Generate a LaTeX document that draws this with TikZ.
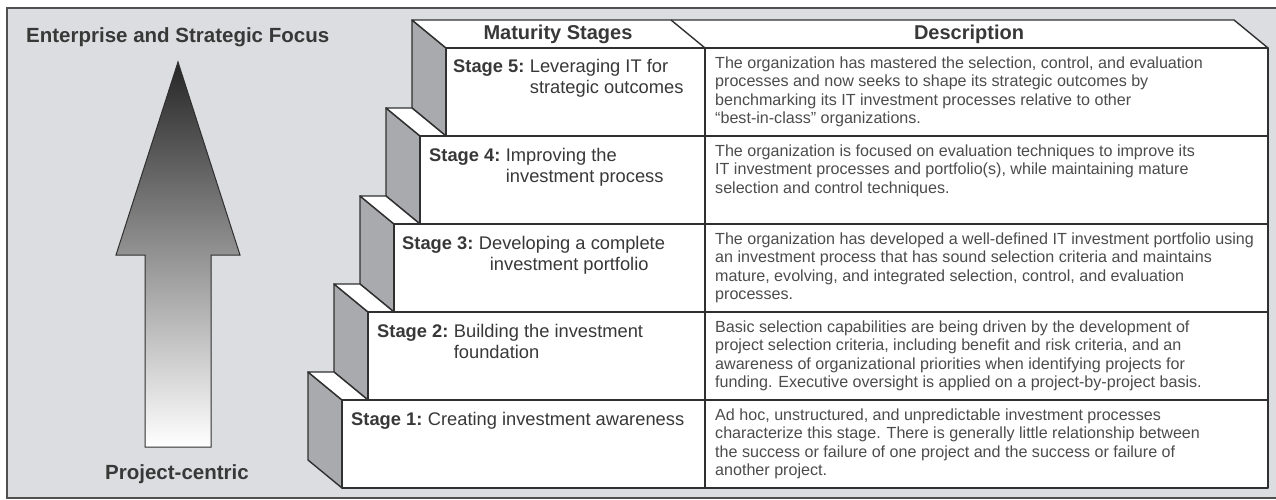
\documentclass[tikz,border=0pt]{standalone}
\usepackage{fontspec}
\setmainfont{Liberation Sans}
\definecolor{bgc}{HTML}{DCDDE0}
\definecolor{sidec}{HTML}{A9AAAD}
\definecolor{linec}{HTML}{303030}
\definecolor{txtc}{HTML}{383838}
\definecolor{framec}{HTML}{505050}
\begin{document}
\begin{tikzpicture}[x=1pt,y=-1pt,
  face/.style={draw=linec, line width=1.4pt, line join=round},
  sideface/.style={face, fill=sidec},
  whiteface/.style={face, fill=white},
  titletext/.style={inner sep=0pt, text=txtc, font=\fontsize{20.5}{24}\selectfont\bfseries},
  hdrtext/.style={inner sep=0pt, text=txtc, anchor=base, font=\fontsize{20}{24}\selectfont\bfseries},
  stagetext/.style={inner sep=0pt, text=txtc, anchor=base west, font=\fontsize{18.3}{21}\selectfont},
  desctext/.style={inner sep=0pt, text=txtc!90!white, anchor=base west, font=\fontsize{16.1}{18.3}\selectfont}
]
\useasboundingbox (0,0) rectangle (1276,500);
\clip (0,0) rectangle (1276,500);
\fill[white] (0,0) rectangle (1276,500);
\draw[fill=bgc, draw=framec, line width=2.5pt] (7,8) rectangle (1290,498);

% arrow
\shade[top color=black!85, bottom color=white, draw=linec, line width=1pt, line join=miter]
  (178,62) -- (240,255) -- (211,255) -- (211,447) -- (145,447) -- (145,255) -- (116,255) -- cycle;

\node[titletext, anchor=base west] (ttl) at (26,43) {Enterprise and Strategic Focus};
\node[titletext, anchor=base] (pc) at (177,479) {Project-centric};

% stage 5 block + header top face
\draw[sideface] (412,20) -- (446,48) -- (446,136) -- (412,108) -- cycle;
\draw[whiteface] (412,20) -- (1234,20) -- (1268,48) -- (446,48) -- cycle;
\draw[face] (671,20) -- (705,48);
\draw[whiteface] (446,48) rectangle (1268,136);

% stage 4
\draw[sideface] (386,108) -- (420,136) -- (420,224) -- (386,196) -- cycle;
\draw[whiteface] (386,108) -- (412,108) -- (446,136) -- (420,136) -- cycle;
\draw[whiteface] (420,136) rectangle (1268,224);

% stage 3
\draw[sideface] (360,196) -- (394,224) -- (394,312) -- (360,284) -- cycle;
\draw[whiteface] (360,196) -- (386,196) -- (420,224) -- (394,224) -- cycle;
\draw[whiteface] (394,224) rectangle (1268,312);

% stage 2
\draw[sideface] (334,284) -- (368,312) -- (368,400) -- (334,372) -- cycle;
\draw[whiteface] (334,284) -- (360,284) -- (394,312) -- (368,312) -- cycle;
\draw[whiteface] (368,312) rectangle (1268,400);

% stage 1
\draw[sideface] (308,372) -- (342,400) -- (342,488) -- (308,460) -- cycle;
\draw[whiteface] (308,372) -- (334,372) -- (368,400) -- (342,400) -- cycle;
\draw[whiteface] (342,400) rectangle (1268,488);

% column divider
\draw[face] (705,48) -- (705,488);

% header texts
\node[hdrtext] (ms) at (558,40) {Maturity Stages};
\node[hdrtext] (desc) at (969,40) {Description};

% stage labels
\node[stagetext] (s5) at (453,73) {\begin{tabular}[t]{@{}l@{\hspace{0.3em}}l@{}}\textbf{Stage 5:} & Leveraging IT for\\ & strategic outcomes\end{tabular}};
\node[stagetext] (s4) at (429,161) {\begin{tabular}[t]{@{}l@{\hspace{0.3em}}l@{}}\textbf{Stage 4:} & Improving the\\ & investment process\end{tabular}};
\node[stagetext] (s3) at (402,249) {\begin{tabular}[t]{@{}l@{\hspace{0.3em}}l@{}}\textbf{Stage 3:} & Developing a complete\\ & \hspace{11pt}investment portfolio\end{tabular}};
\node[stagetext] (s2) at (377,337) {\begin{tabular}[t]{@{}l@{\hspace{0.3em}}l@{}}\textbf{Stage 2:} & Building the investment\\ & foundation\end{tabular}};
\node[stagetext] (s1) at (351,425) {\begin{tabular}[t]{@{}l@{\hspace{0.3em}}l@{}}\textbf{Stage 1:} & Creating investment awareness\end{tabular}};

% descriptions
\node[desctext] (d5) at (715,68.5) {\begin{tabular}[t]{@{}l@{}}The organization has mastered the selection, control, and evaluation\\
processes and now seeks to shape its strategic outcomes by\\
benchmarking its IT investment processes relative to other\\
“best-in-class” organizations.\end{tabular}};
\node[desctext] (d4) at (715,156.5) {\begin{tabular}[t]{@{}l@{}}The organization is focused on evaluation techniques to improve its\\
IT investment processes and portfolio(s), while maintaining mature\\
selection and control techniques.\end{tabular}};
\node[desctext] (d3) at (715,244.5) {\begin{tabular}[t]{@{}l@{}}The organization has developed a well-defined IT investment portfolio using\\
an investment process that has sound selection criteria and maintains\\
mature, evolving, and integrated selection, control, and evaluation\\
processes.\end{tabular}};
\node[desctext] (d2) at (715,332.5) {\begin{tabular}[t]{@{}l@{}}Basic selection capabilities are being driven by the development of\\
project selection criteria, including benefit and risk criteria, and an\\
awareness of organizational priorities when identifying projects for\\
funding. Executive oversight is applied on a project-by-project basis.\end{tabular}};
\node[desctext] (d1) at (715,420.5) {\begin{tabular}[t]{@{}l@{}}Ad hoc, unstructured, and unpredictable investment processes\\
characterize this stage. There is generally little relationship between\\
the success or failure of one project and the success or failure of\\
another project.\end{tabular}};
\end{tikzpicture}
\end{document}
